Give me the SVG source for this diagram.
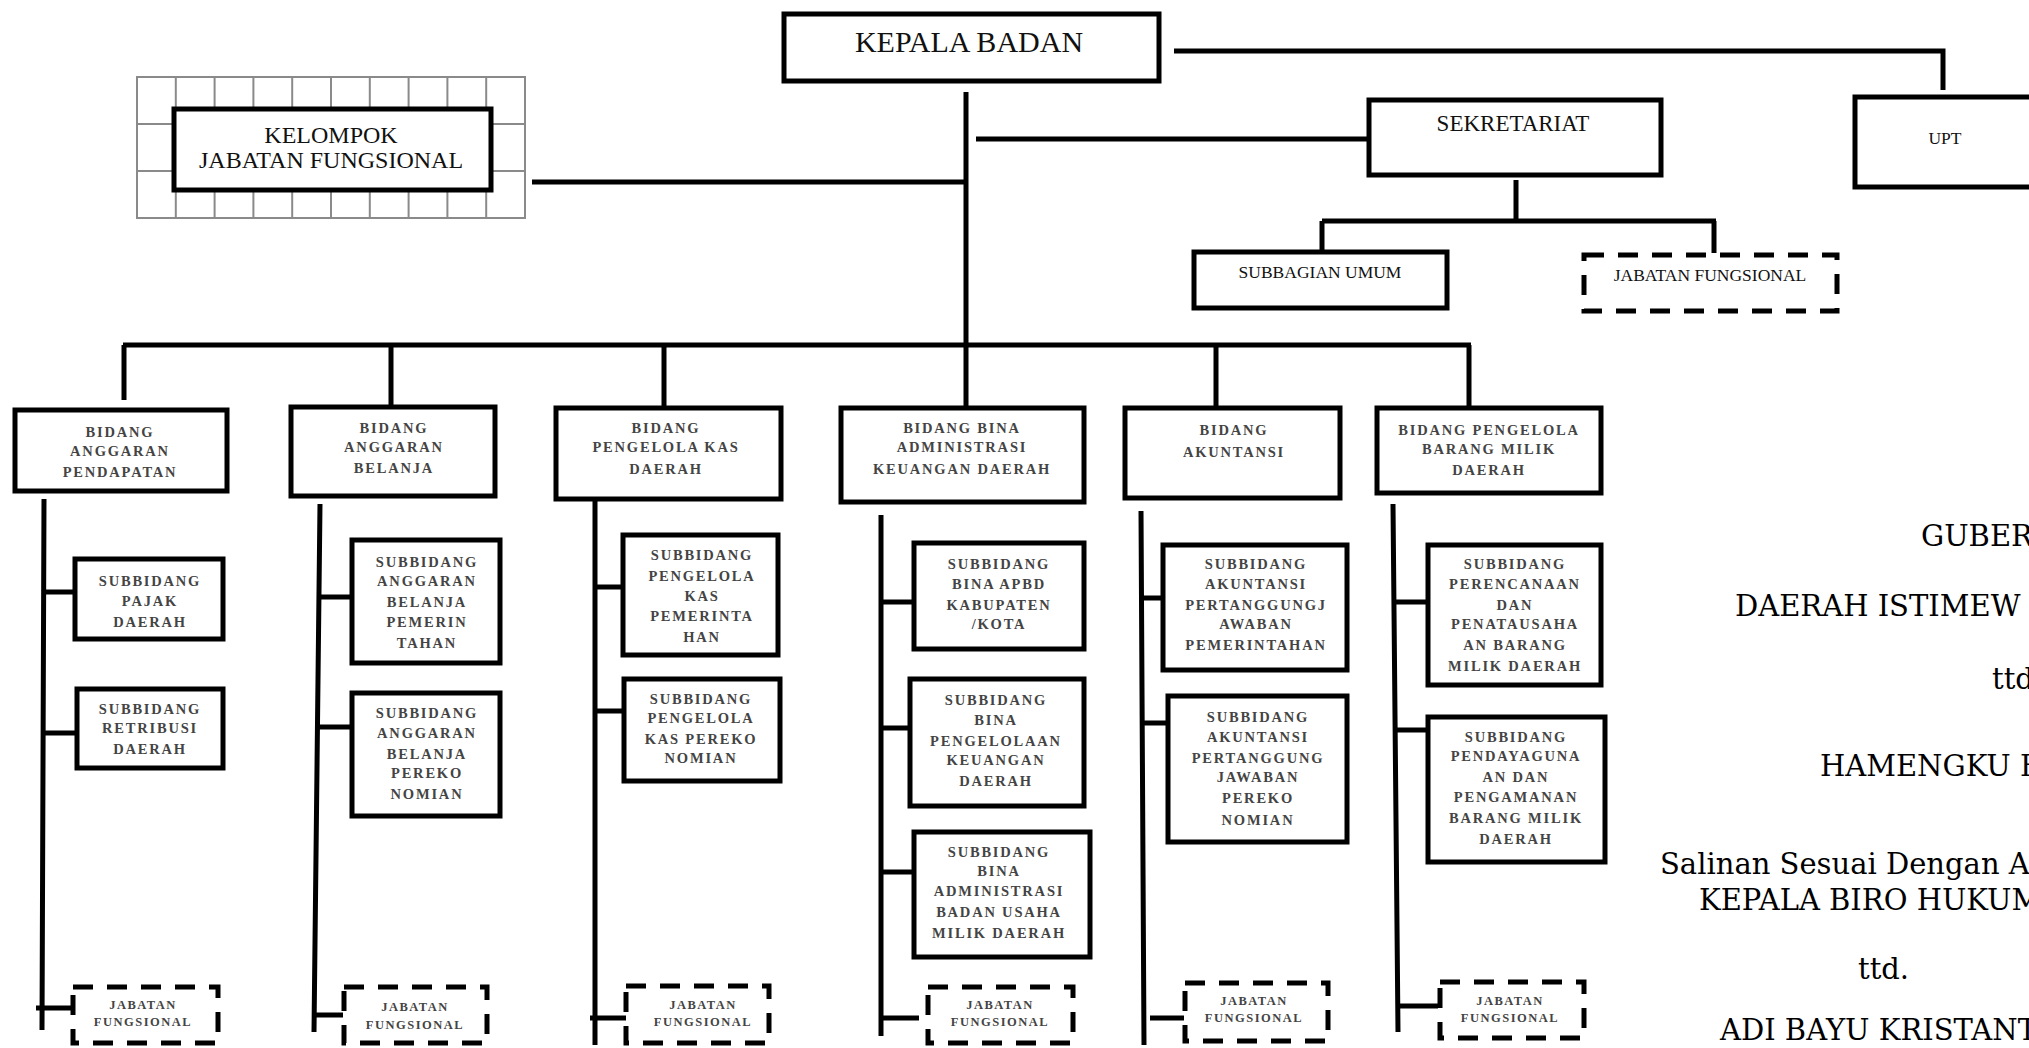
<svg xmlns="http://www.w3.org/2000/svg" width="2029" height="1048" viewBox="0 0 2029 1048">
<style>
.box{fill:#fff;stroke:#000;stroke-width:5}
.dash{fill:#fff;stroke:#000;stroke-width:5;stroke-dasharray:20 14}
.ln{stroke:#000;stroke-width:5;fill:none}
.grid{stroke:#8a8a8a;stroke-width:2;fill:none}
.big{font-family:'Liberation Serif',serif;fill:#111;text-anchor:middle}
.t{font-family:'Liberation Serif',serif;fill:#444;font-size:14.5px;font-weight:bold;letter-spacing:1.8px;text-anchor:middle}
.s{font-family:'Liberation Serif',serif;fill:#444;font-size:12.5px;font-weight:bold;letter-spacing:1.5px;text-anchor:middle}
.sig{font-family:'DejaVu Serif',serif;fill:#000;font-size:29px}
</style>
<rect width="2029" height="1048" fill="#fff"/>

<g id="connectors">
<path class="ln" d="M1174,51 H1943 V90"/>
<path class="ln" d="M966,92 V406"/>
<path class="ln" d="M532,182 H966"/>
<path class="ln" d="M976,139 H1367"/>
<path class="ln" d="M1516,180 V221 M1322,221 H1716 M1322,221 V250 M1714,221 V253"/>
<path class="ln" d="M123,345 H1471"/>
<path class="ln" d="M124,345 V400 M391,345 V405 M664,345 V406 M1216,345 V406 M1469,345 V406"/>
<path class="ln" d="M44,499 L42,1030 M44,592 H73 M43,733 H75 M36,1008 H71"/>
<path class="ln" d="M320,504 L314,1032 M318,597 H350 M316,727 H350 M314,1015 H343"/>
<path class="ln" d="M595,501 V1045 M595,587 H621 M595,711 H622 M590,1018 H626"/>
<path class="ln" d="M881,515 V1036 M881,602 H912 M881,728 H908 M881,872 H912 M881,1018 H919"/>
<path class="ln" d="M1141,511 L1144,1045 M1141,598 H1161 M1142,723 H1166 M1150,1018 H1184"/>
<path class="ln" d="M1393,504 L1398,1032 M1395,602 H1426 M1396,730 H1426 M1400,1006 H1438"/>
</g>

<g id="kelompok">
<rect class="grid" x="137" y="77" width="388" height="141"/>
<path class="grid" d="M175.8,77V218M214.6,77V218M253.4,77V218M292.2,77V218M331,77V218M369.8,77V218M408.6,77V218M447.4,77V218M486.2,77V218M137,124H525M137,171H525"/>
<rect class="box" x="174" y="109" width="317" height="81"/>
<text class="big" x="331" y="143" font-size="24">KELOMPOK</text>
<text class="big" x="331" y="168" font-size="24">JABATAN FUNGSIONAL</text>
</g>

<g id="kepala">
<rect class="box" x="784" y="14" width="375" height="67"/>
<text class="big" x="969" y="52" font-size="30">KEPALA BADAN</text>
</g>

<g id="upt">
<rect class="box" x="1855" y="97" width="190" height="90"/>
<text class="big" x="1945" y="144" font-size="17.5" fill="#333">UPT</text>
</g>

<g id="sekretariat">
<rect class="box" x="1369" y="100" width="292" height="75"/>
<text class="big" x="1513" y="131" font-size="23">SEKRETARIAT</text>
</g>

<g id="subbagian-umum">
<rect class="box" x="1194" y="252" width="253" height="56"/>
<text class="big" x="1320" y="278" font-size="17.5" fill="#333">SUBBAGIAN UMUM</text>
</g>

<g id="jf-sekretariat">
<rect class="dash" x="1584" y="255" width="253" height="56"/>
<text class="big" x="1710" y="281" font-size="17.5" fill="#333">JABATAN FUNGSIONAL</text>
</g>

<g id="bidang-anggaran-pendapatan">
<rect class="box" x="15" y="410" width="212" height="81"/>
<text class="t" x="120" y="437">BIDANG</text>
<text class="t" x="120" y="456">ANGGARAN</text>
<text class="t" x="120" y="477">PENDAPATAN</text>
</g>
<g id="sub-pajak">
<rect class="box" x="75" y="559" width="148" height="80"/>
<text class="t" x="150" y="586">SUBBIDANG</text>
<text class="t" x="150" y="606">PAJAK</text>
<text class="t" x="150" y="627">DAERAH</text>
</g>
<g id="sub-retribusi">
<rect class="box" x="77" y="689" width="146" height="79"/>
<text class="t" x="150" y="714">SUBBIDANG</text>
<text class="t" x="150" y="733">RETRIBUSI</text>
<text class="t" x="150" y="754">DAERAH</text>
</g>
<g id="jf-1">
<rect class="dash" x="73" y="987" width="145" height="56"/>
<text class="s" x="143" y="1009">JABATAN</text>
<text class="s" x="143" y="1026">FUNGSIONAL</text>
</g>

<g id="bidang-anggaran-belanja">
<rect class="box" x="291" y="407" width="204" height="89"/>
<text class="t" x="394" y="433">BIDANG</text>
<text class="t" x="394" y="452">ANGGARAN</text>
<text class="t" x="394" y="473">BELANJA</text>
</g>
<g id="sub-belanja-pemerintahan">
<rect class="box" x="352" y="540" width="148" height="123"/>
<text class="t" x="427" y="567">SUBBIDANG</text>
<text class="t" x="427" y="586">ANGGARAN</text>
<text class="t" x="427" y="607">BELANJA</text>
<text class="t" x="427" y="627">PEMERIN</text>
<text class="t" x="427" y="648">TAHAN</text>
</g>
<g id="sub-belanja-perekonomian">
<rect class="box" x="352" y="693" width="148" height="123"/>
<text class="t" x="427" y="718">SUBBIDANG</text>
<text class="t" x="427" y="738">ANGGARAN</text>
<text class="t" x="427" y="759">BELANJA</text>
<text class="t" x="427" y="778">PEREKO</text>
<text class="t" x="427" y="799">NOMIAN</text>
</g>
<g id="jf-2">
<rect class="dash" x="344" y="987" width="143" height="56"/>
<text class="s" x="415" y="1011">JABATAN</text>
<text class="s" x="415" y="1029">FUNGSIONAL</text>
</g>

<g id="bidang-pengelola-kas">
<rect class="box" x="556" y="408" width="225" height="91"/>
<text class="t" x="666" y="433">BIDANG</text>
<text class="t" x="666" y="452">PENGELOLA KAS</text>
<text class="t" x="666" y="474">DAERAH</text>
</g>
<g id="sub-kas-pemerintahan">
<rect class="box" x="623" y="535" width="155" height="120"/>
<text class="t" x="702" y="560">SUBBIDANG</text>
<text class="t" x="702" y="581">PENGELOLA</text>
<text class="t" x="702" y="601">KAS</text>
<text class="t" x="702" y="621">PEMERINTA</text>
<text class="t" x="702" y="642">HAN</text>
</g>
<g id="sub-kas-perekonomian">
<rect class="box" x="624" y="679" width="156" height="102"/>
<text class="t" x="701" y="704">SUBBIDANG</text>
<text class="t" x="701" y="723">PENGELOLA</text>
<text class="t" x="701" y="744">KAS PEREKO</text>
<text class="t" x="701" y="763">NOMIAN</text>
</g>
<g id="jf-3">
<rect class="dash" x="626" y="986" width="143" height="57"/>
<text class="s" x="703" y="1009">JABATAN</text>
<text class="s" x="703" y="1026">FUNGSIONAL</text>
</g>

<g id="bidang-bina-administrasi">
<rect class="box" x="841" y="408" width="243" height="94"/>
<text class="t" x="962" y="433">BIDANG BINA</text>
<text class="t" x="962" y="452">ADMINISTRASI</text>
<text class="t" x="962" y="474">KEUANGAN DAERAH</text>
</g>
<g id="sub-apbd">
<rect class="box" x="914" y="543" width="170" height="106"/>
<text class="t" x="999" y="569">SUBBIDANG</text>
<text class="t" x="999" y="589">BINA APBD</text>
<text class="t" x="999" y="610">KABUPATEN</text>
<text class="t" x="999" y="629">/KOTA</text>
</g>
<g id="sub-pengelolaan-keuangan">
<rect class="box" x="910" y="679" width="174" height="127"/>
<text class="t" x="996" y="705">SUBBIDANG</text>
<text class="t" x="996" y="725">BINA</text>
<text class="t" x="996" y="746">PENGELOLAAN</text>
<text class="t" x="996" y="765">KEUANGAN</text>
<text class="t" x="996" y="786">DAERAH</text>
</g>
<g id="sub-bumd">
<rect class="box" x="914" y="832" width="176" height="125"/>
<text class="t" x="999" y="857">SUBBIDANG</text>
<text class="t" x="999" y="876">BINA</text>
<text class="t" x="999" y="896">ADMINISTRASI</text>
<text class="t" x="999" y="917">BADAN USAHA</text>
<text class="t" x="999" y="938">MILIK DAERAH</text>
</g>
<g id="jf-4">
<rect class="dash" x="928" y="987" width="145" height="56"/>
<text class="s" x="1000" y="1009">JABATAN</text>
<text class="s" x="1000" y="1026">FUNGSIONAL</text>
</g>

<g id="bidang-akuntansi">
<rect class="box" x="1125" y="408" width="215" height="90"/>
<text class="t" x="1234" y="435">BIDANG</text>
<text class="t" x="1234" y="457">AKUNTANSI</text>
</g>
<g id="sub-akuntansi-pemerintahan">
<rect class="box" x="1163" y="545" width="184" height="125"/>
<text class="t" x="1256" y="569">SUBBIDANG</text>
<text class="t" x="1256" y="589">AKUNTANSI</text>
<text class="t" x="1256" y="610">PERTANGGUNGJ</text>
<text class="t" x="1256" y="629">AWABAN</text>
<text class="t" x="1256" y="650">PEMERINTAHAN</text>
</g>
<g id="sub-akuntansi-perekonomian">
<rect class="box" x="1168" y="696" width="179" height="146"/>
<text class="t" x="1258" y="722">SUBBIDANG</text>
<text class="t" x="1258" y="742">AKUNTANSI</text>
<text class="t" x="1258" y="763">PERTANGGUNG</text>
<text class="t" x="1258" y="782">JAWABAN</text>
<text class="t" x="1258" y="803">PEREKO</text>
<text class="t" x="1258" y="825">NOMIAN</text>
</g>
<g id="jf-5">
<rect class="dash" x="1185" y="983" width="143" height="58"/>
<text class="s" x="1254" y="1005">JABATAN</text>
<text class="s" x="1254" y="1022">FUNGSIONAL</text>
</g>

<g id="bidang-barang-milik-daerah">
<rect class="box" x="1377" y="408" width="224" height="85"/>
<text class="t" x="1489" y="435">BIDANG PENGELOLA</text>
<text class="t" x="1489" y="454">BARANG MILIK</text>
<text class="t" x="1489" y="475">DAERAH</text>
</g>
<g id="sub-perencanaan">
<rect class="box" x="1428" y="545" width="173" height="140"/>
<text class="t" x="1515" y="569">SUBBIDANG</text>
<text class="t" x="1515" y="589">PERENCANAAN</text>
<text class="t" x="1515" y="610">DAN</text>
<text class="t" x="1515" y="629">PENATAUSAHA</text>
<text class="t" x="1515" y="650">AN BARANG</text>
<text class="t" x="1515" y="671">MILIK DAERAH</text>
</g>
<g id="sub-pendayagunaan">
<rect class="box" x="1428" y="717" width="177" height="145"/>
<text class="t" x="1516" y="742">SUBBIDANG</text>
<text class="t" x="1516" y="761">PENDAYAGUNA</text>
<text class="t" x="1516" y="782">AN DAN</text>
<text class="t" x="1516" y="802">PENGAMANAN</text>
<text class="t" x="1516" y="823">BARANG MILIK</text>
<text class="t" x="1516" y="844">DAERAH</text>
</g>
<g id="jf-6">
<rect class="dash" x="1440" y="982" width="144" height="56"/>
<text class="s" x="1510" y="1005">JABATAN</text>
<text class="s" x="1510" y="1022">FUNGSIONAL</text>
</g>

<g id="signature">
<text class="sig" x="1921" y="546">GUBER</text>
<text class="sig" x="1735" y="616">DAERAH ISTIMEW</text>
<text class="sig" x="1992" y="689">ttd</text>
<text class="sig" x="1820" y="776">HAMENGKU B</text>
<text class="sig" x="1660" y="874">Salinan Sesuai Dengan As</text>
<text class="sig" x="1699" y="910">KEPALA BIRO HUKUM</text>
<text class="sig" x="1858" y="979">ttd.</text>
<text class="sig" x="1720" y="1040">ADI BAYU KRISTANTO</text>
</g>
</svg>
